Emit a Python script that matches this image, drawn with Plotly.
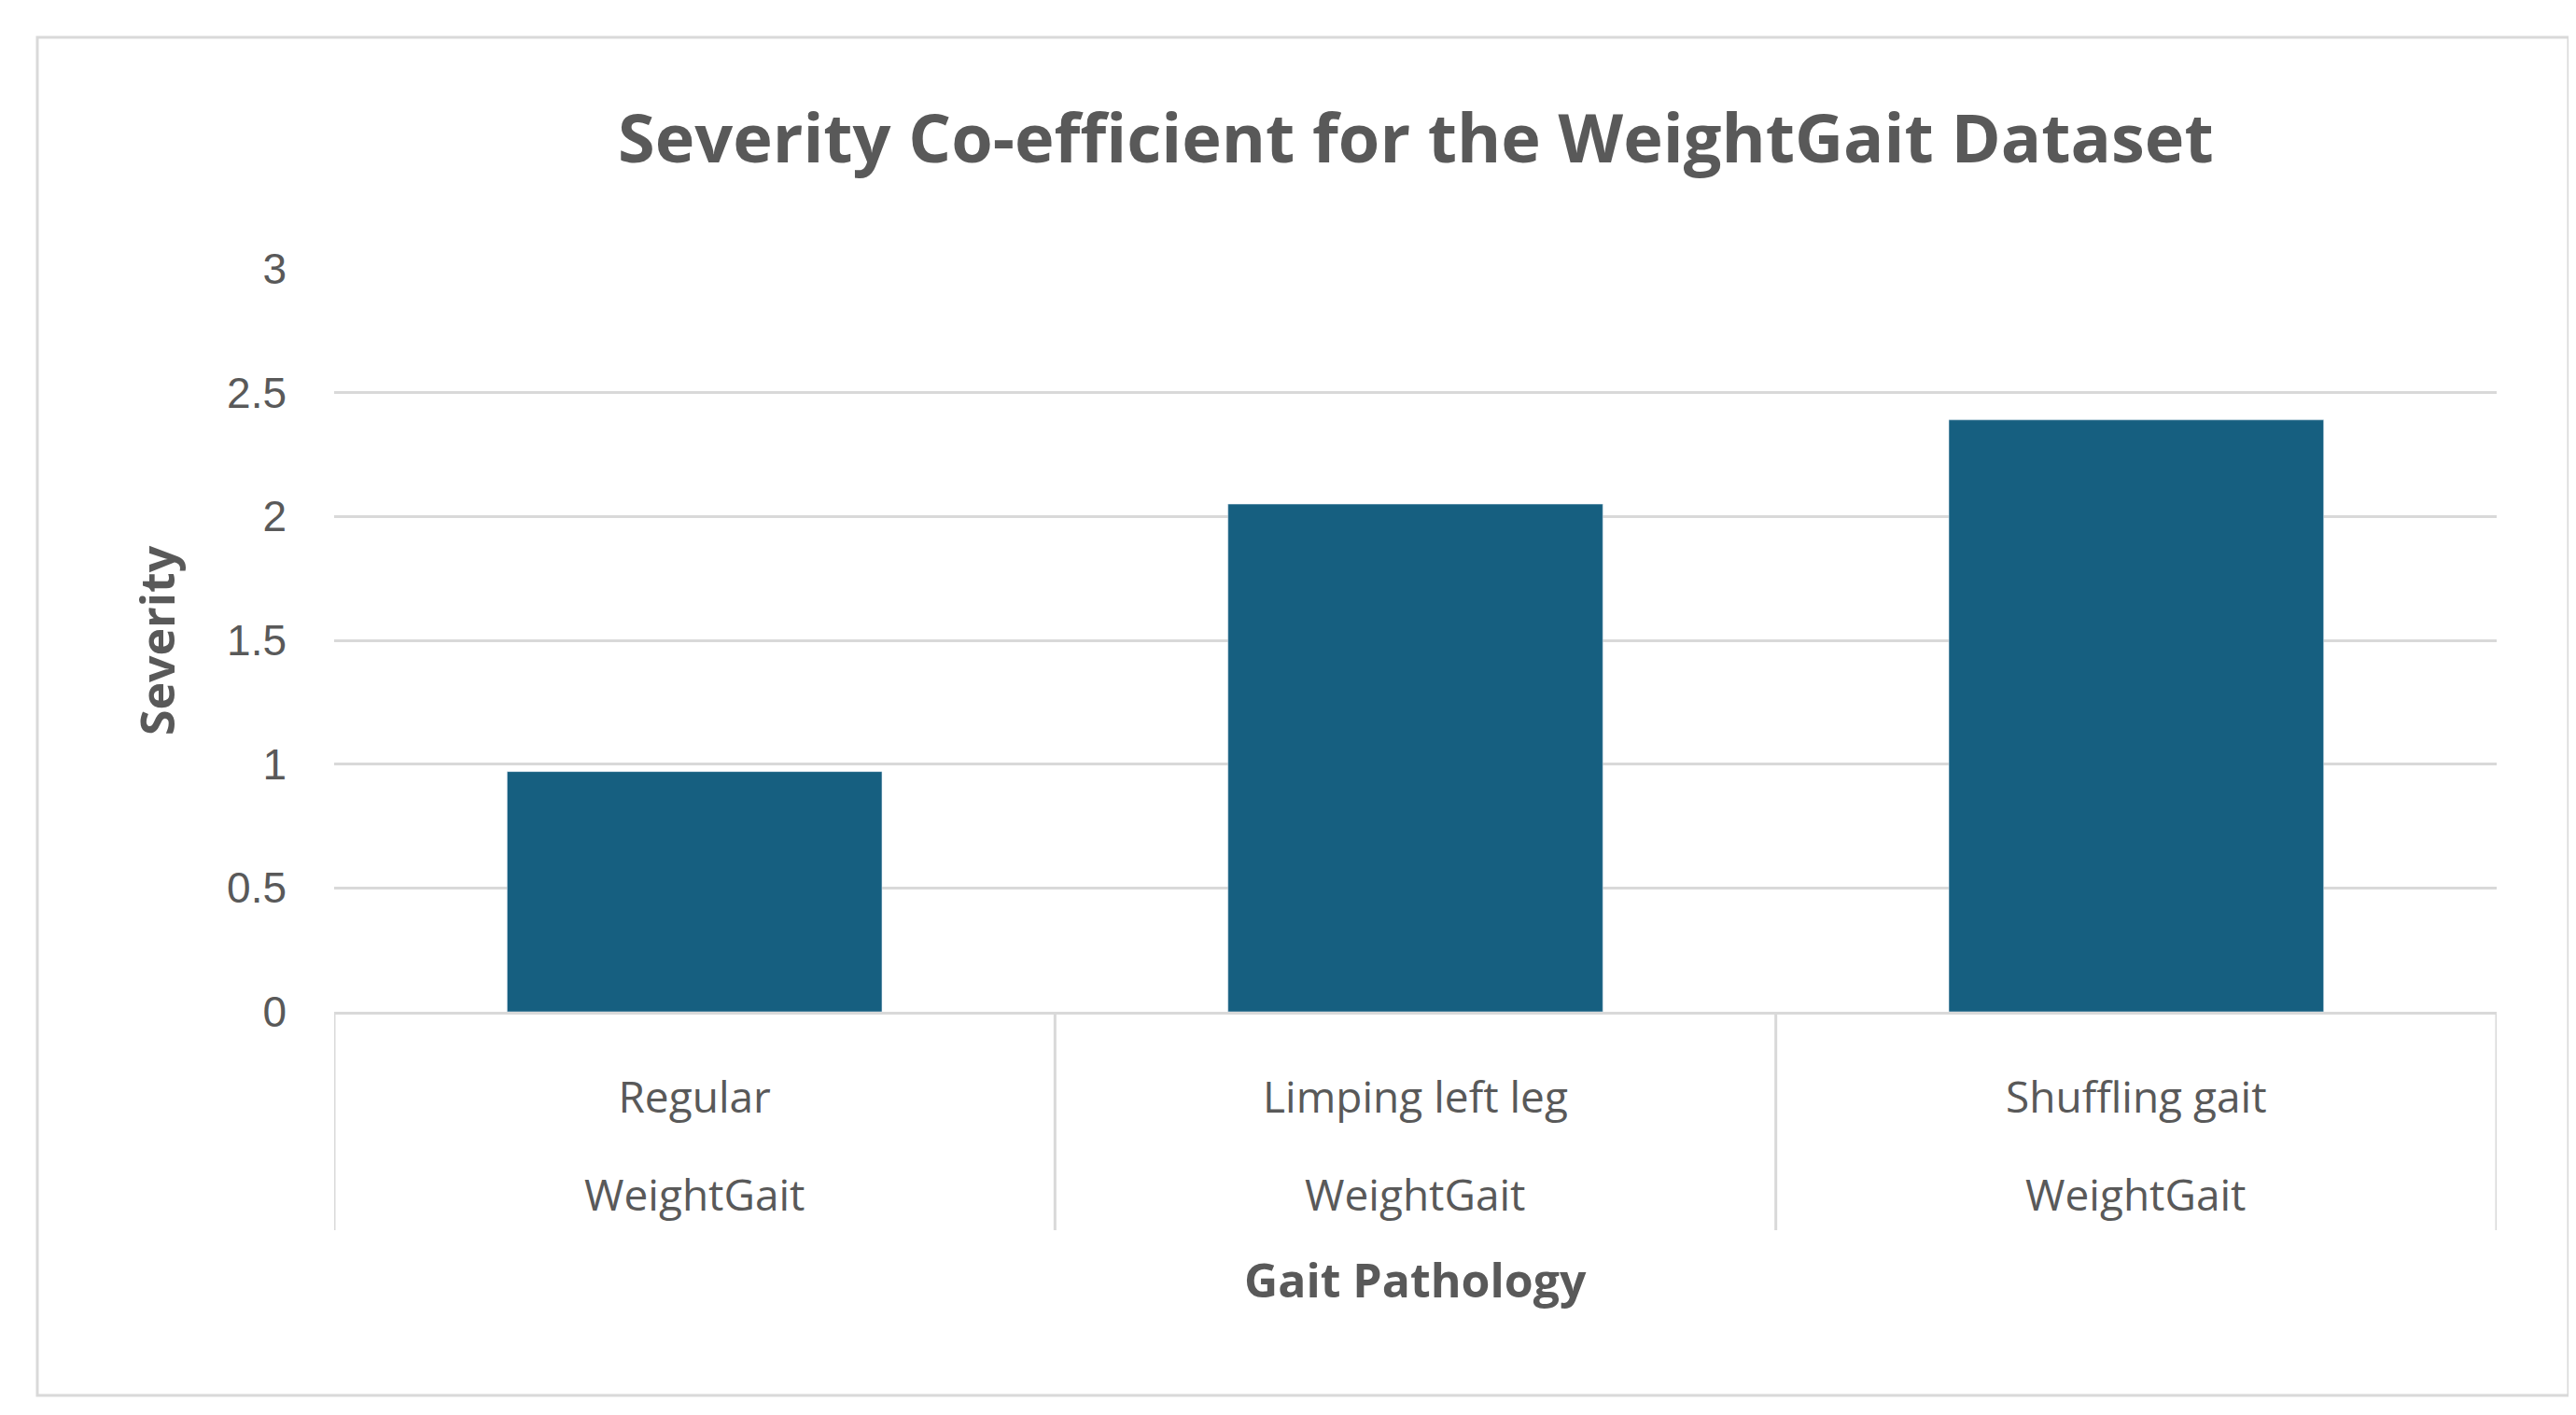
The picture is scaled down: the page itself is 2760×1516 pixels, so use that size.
import plotly.graph_objects as go

categories = ["Regular", "Limping left leg", "Shuffling gait"]
groups = ["WeightGait", "WeightGait", "WeightGait"]
severity = [0.97, 2.05, 2.39]

W, H = 2760, 1516
L, R, T, B = 350, 93, 280, 440
pw, ph = W - L - R, H - T - B
gray = "#595959"

fig = go.Figure(go.Bar(x=list(range(3)), y=severity, marker_color="#165F80", width=0.52))

ann = []
for i, g in enumerate(groups):
    ann.append(dict(x=i, y=-195 / ph, xref="x", yref="paper", text=g, showarrow=False,
                    font=dict(family="Open Sans", size=46, color=gray), yanchor="middle"))
ann.append(dict(x=0.5, y=-287 / ph, xref="paper", yref="paper", text="<b>Gait Pathology</b>",
                showarrow=False, font=dict(family="Open Sans", size=50, color=gray), yanchor="middle"))
ann.append(dict(x=(160 - L) / pw, y=0.5, xref="paper", yref="paper", text="<b>Severity</b>", textangle=-90,
                showarrow=False, font=dict(family="Open Sans", size=50, color=gray), xanchor="center"))
ann.append(dict(x=0.5, y=1 + (T - 138) / ph, xref="paper", yref="paper",
                text="<b>Severity Co-efficient for the WeightGait Dataset</b>",
                showarrow=False, font=dict(family="Open Sans", size=72, color=gray), yanchor="middle"))

shapes = []
for xv in [-0.5, 0.5, 1.5, 2.5]:
    shapes.append(dict(type="line", xref="x", yref="paper", x0=xv, x1=xv, y0=0, y1=-234 / ph,
                       line=dict(color="#D9D9D9", width=3)))
shapes.append(dict(type="rect", xref="paper", yref="paper",
                   x0=(32 - L) / pw, x1=(2744 - L) / pw, y0=-(1487 - T - ph) / ph, y1=1 + (T - 32) / ph,
                   line=dict(color="#D9D9D9", width=3)))

fig.update_layout(
    width=W, height=H, margin=dict(l=L, r=R, t=T, b=B),
    plot_bgcolor="white", paper_bgcolor="white", showlegend=False,
    annotations=ann, shapes=shapes,
    xaxis=dict(range=[-0.5, 2.5], tickvals=list(range(3)), ticktext=categories,
               showgrid=False, showline=True, linecolor="#D9D9D9", linewidth=3,
               tickfont=dict(family="Open Sans", size=46, color=gray), ticklabelstandoff=50),
    yaxis=dict(range=[0, 3], dtick=0.5, showgrid=True, gridcolor="#D9D9D9", gridwidth=3,
               zeroline=False, showline=False,
               tickfont=dict(family="Liberation Sans", size=46, color=gray), ticklabelstandoff=50),
)
fig.write_html("out.html")
